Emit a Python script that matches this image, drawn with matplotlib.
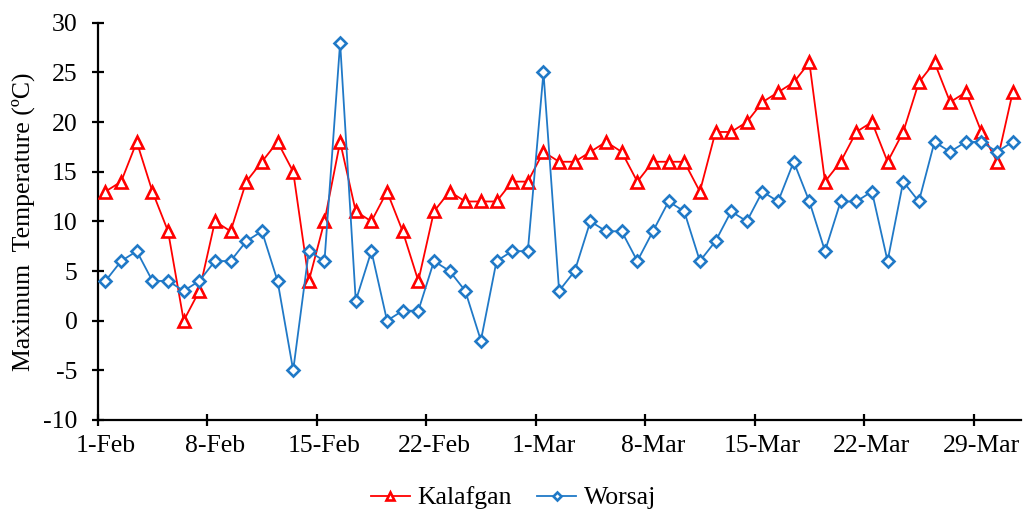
import matplotlib
matplotlib.use("Agg")
import matplotlib.pyplot as plt
import numpy as np

days = [f"{d}-Feb" for d in range(1, 29)] + [f"{d}-Mar" for d in range(1, 32)]

kalafgan = [13, 14, 18, 13, 9, 0, 3, 10, 9, 14, 16, 18, 15, 4, 10, 18, 11, 10, 13, 9,
            4, 11, 13, 12, 12, 12, 14, 14, 17, 16, 16, 17, 18, 17, 14, 16, 16, 16, 13, 19,
            19, 20, 22, 23, 24, 26, 14, 16, 19, 20, 16, 19, 24, 26, 22, 23, 19, 16, 23]
worsaj = [4, 6, 7, 4, 4, 3, 4, 6, 6, 8, 9, 4, -5, 7, 6, 28, 2, 7, 0, 1,
          1, 6, 5, 3, -2, 6, 7, 7, 25, 3, 5, 10, 9, 9, 6, 9, 12, 11, 6, 8,
          11, 10, 13, 12, 16, 12, 7, 12, 12, 13, 6, 14, 12, 18, 17, 18, 18, 17, 18]

yticks = list(range(-10, 31, 5))
label_every = 7

plt.rcParams['font.family'] = ['Liberation Serif', 'DejaVu Serif']

fig = plt.figure(figsize=(10.27, 5.15), dpi=100)
ax = fig.add_axes([0.0951, 0.1845, 0.8986, 0.7714])

x = np.arange(len(days))
red = '#FF0000'
blue = '#2079C7'
ax.plot(x, kalafgan, color=red, lw=1.3, marker='^', ms=8, mfc='white',
        mec=red, mew=1.9, label='Kalafgan', zorder=3)
ax.plot(x, worsaj, color=blue, lw=1.3, marker='D', ms=6, mfc='white',
        mec=blue, mew=1.9, label='Worsaj', zorder=3)

ax.set_xlim(-0.5, len(days) - 0.5)
ax.set_ylim(-10, 30)
ax.set_yticks(yticks)
ax.set_yticklabels([str(v) for v in yticks])

major = np.arange(-0.5, len(days), label_every)
ax.set_xticks(major)
ax.set_xticklabels([''] * len(major))
minor = np.arange(0, len(days), label_every)
ax.set_xticks(minor, minor=True)
ax.set_xticklabels([days[i] for i in minor], minor=True)

ax.tick_params(axis='both', which='major', direction='inout', length=9, width=1.6,
               labelsize=18.5, color='black')
ax.tick_params(axis='x', which='minor', length=0, labelsize=18.5, pad=11)
ax.tick_params(axis='y', pad=10)

for s in ['top', 'right']:
    ax.spines[s].set_visible(False)
for s in ['left', 'bottom']:
    ax.spines[s].set_linewidth(1.6)

ax.set_ylabel('Maximum  Temperature (\u00baC)', fontsize=18.5, labelpad=6)

fig.legend(loc='center', bbox_to_anchor=(0.5, 0.033), ncol=2, frameon=False,
           fontsize=18.5, handlelength=1.5, columnspacing=1.0, handletextpad=0.3,
           markerscale=0.75)

fig.savefig('out.png', dpi=100)
